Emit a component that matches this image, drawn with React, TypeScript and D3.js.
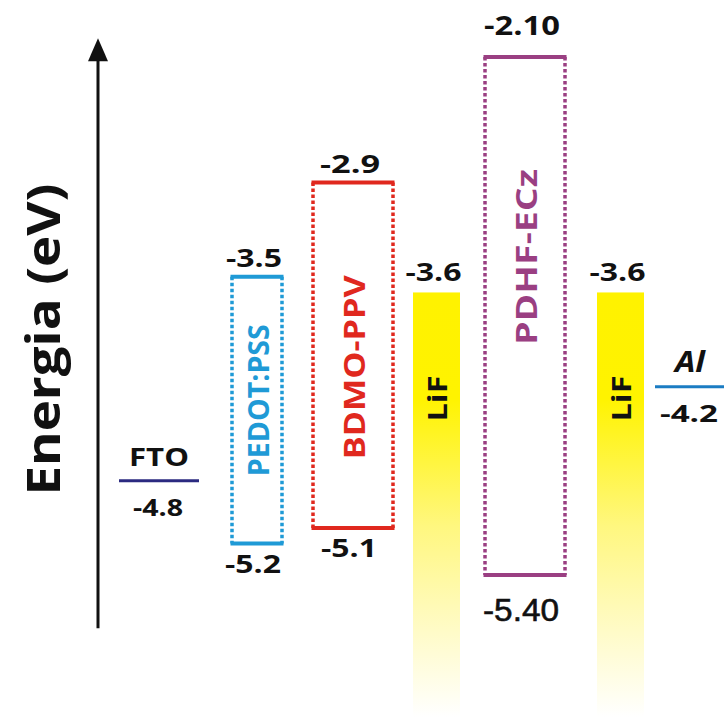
import React from "react";
import * as d3 from "d3";

// ---- data ----
const polymers = ["PEDOT:PSS", "BDMO-PPV", "PDHF-ECz"];
const polymerLumo = [-3.5, -2.9, -2.1];
const polymerHomo = [-5.2, -5.1, -5.4];
const polymerLumoLabels = ["-3.5", "-2.9", "-2.10"];
const polymerHomoLabels = ["-5.2", "-5.1", "-5.40"];

const electrodes = ["FTO", "Al"];
const electrodeLevels = [-4.8, -4.2];
const electrodeLabels = ["-4.8", "-4.2"];

const lifLayers = ["LiF-1", "LiF-2"];
const lifLevels = [-3.6, -3.6];
const lifLabels = ["-3.6", "-3.6"];

const axisTitle = "Energia (eV)";

// ---- layout (styles / positions) ----
const W = 724;
const H = 717;
const slots = ["FTO", "PEDOT:PSS", "BDMO-PPV", "LiF-1", "PDHF-ECz", "LiF-2", "Al"];
const slotCenters = [159, 257, 353, 436.5, 525, 620.5, 690];
const slotWidths = [80, 50, 80, 47, 80, 47, 70];
const xCenter = d3.scaleOrdinal<string, number>().domain(slots).range(slotCenters);
const xWidth = d3.scaleOrdinal<string, number>().domain(slots).range(slotWidths);

const polymerColors = ["#1f9ad6", "#e0281e", "#9a3f82"];
const polymerLabelLength = [152, 184, 176];
const polymerLabelOffset = [-10, 12, 0];
const lumoLabelLength = [56, 60, 76];
const homoLabelLength = [56, 56, 76];
const electrodeColors = ["#2b2a80", "#1b7cc3"];
const FONT = "'Open Sans', 'DejaVu Sans', sans-serif";

export default function App() {
  const allLevels = [...polymerLumo, ...polymerHomo, ...electrodeLevels, ...lifLevels];
  const y = d3
    .scaleLinear()
    .domain([d3.max(allLevels) as number, d3.min(allLevels) as number])
    .range([57, 575]);

  const axisX = 98;
  const axisTop = y(-1.98);
  const axisBottom = y(-5.74);

  return (
    <svg
      width={W}
      height={H}
      style={{ position: "absolute", left: 0, top: 0, background: "#fff" }}
      fontFamily={FONT}
    >
      <defs>
        <linearGradient id="lifGrad" x1="0" y1="0" x2="0" y2="1">
          <stop offset="0" stopColor="#fff200" />
          <stop offset="0.25" stopColor="#fff300" />
          <stop offset="0.55" stopColor="#fff77f" />
          <stop offset="0.8" stopColor="#fffbc8" />
          <stop offset="1" stopColor="#ffffff" />
        </linearGradient>
      </defs>

      {/* energy axis */}
      <line x1={axisX} x2={axisX} y1={axisBottom} y2={axisTop + 20} stroke="#111" strokeWidth={3} />
      <path
        d={`M${axisX},${axisTop} L${axisX - 10},${axisTop + 23} L${axisX + 10},${axisTop + 23} Z`}
        fill="#111"
      />
      <text
        transform={`translate(42,${(y(-2.9) + y(-4.9)) / 2}) rotate(-90)`}
        textAnchor="middle"
        dominantBaseline="central"
        fontSize={46}
        fontWeight={700}
        fill="#111"
        textLength={312}
        lengthAdjust="spacingAndGlyphs"
      >
        {axisTitle}
      </text>

      {/* LiF layers */}
      {lifLayers.map((name, i) => {
        const cx = xCenter(name);
        const w = xWidth(name);
        const top = y(lifLevels[i]);
        return (
          <g key={name}>
            <rect x={cx - w / 2} y={top} width={w} height={H - top} fill="url(#lifGrad)" />
            <text
              x={cx - 3}
              y={top - 11}
              textAnchor="middle"
              fontSize={25}
              fontWeight={700}
              fill="#111"
              textLength={56}
              lengthAdjust="spacingAndGlyphs"
            >
              {lifLabels[i]}
            </text>
            <text
              transform={`translate(${cx},${top + 106}) rotate(-90)`}
              textAnchor="middle"
              dominantBaseline="central"
              fontSize={27}
              fontWeight={700}
              fill="#111"
              textLength={46}
              lengthAdjust="spacingAndGlyphs"
            >
              LiF
            </text>
          </g>
        );
      })}

      {/* polymer boxes */}
      {polymers.map((name, i) => {
        const cx = xCenter(name);
        const w = xWidth(name);
        const x0 = cx - w / 2;
        const x1 = cx + w / 2;
        const top = y(polymerLumo[i]);
        const bot = y(polymerHomo[i]);
        const c = polymerColors[i];
        const isLast = i === polymers.length - 1;
        const labelY = isLast ? top + 200 : (top + bot) / 2 + polymerLabelOffset[i];
        return (
          <g key={name}>
            <line x1={x0} x2={x0} y1={top} y2={bot} stroke={c} strokeWidth={3.5} strokeDasharray="3.5 2.5" />
            <line x1={x1} x2={x1} y1={top} y2={bot} stroke={c} strokeWidth={3.5} strokeDasharray="3.5 2.5" />
            <line x1={x0 - 1.5} x2={x1 + 1.5} y1={top} y2={top} stroke={c} strokeWidth={4} />
            <line x1={x0 - 1.5} x2={x1 + 1.5} y1={bot} y2={bot} stroke={c} strokeWidth={4} />
            <text
              x={cx - 3}
              y={top - (isLast ? 22 : 10)}
              textAnchor="middle"
              fontSize={isLast ? 27 : 25}
              fontWeight={700}
              fill="#111"
              textLength={lumoLabelLength[i]}
              lengthAdjust="spacingAndGlyphs"
            >
              {polymerLumoLabels[i]}
            </text>
            <text
              x={cx - 4}
              y={bot + (isLast ? 46 : 29)}
              textAnchor="middle"
              fontSize={isLast ? 32 : 25}
              fontWeight={isLast ? 400 : 700}
              fontFamily={isLast ? "'Liberation Sans', Arial, sans-serif" : FONT}
              fill="#111"
              stroke={isLast ? "#111" : "none"}
              strokeWidth={isLast ? 0.6 : 0}
              textLength={homoLabelLength[i]}
              lengthAdjust="spacingAndGlyphs"
            >
              {polymerHomoLabels[i]}
            </text>
            <text
              transform={`translate(${cx},${labelY}) rotate(-90)`}
              textAnchor="middle"
              dominantBaseline="central"
              fontSize={29}
              fontWeight={700}
              fill={c}
              textLength={polymerLabelLength[i]}
              lengthAdjust="spacingAndGlyphs"
            >
              {name}
            </text>
          </g>
        );
      })}

      {/* electrodes */}
      {electrodes.map((name, i) => {
        const cx = xCenter(name);
        const w = xWidth(name);
        const ly = y(electrodeLevels[i]);
        const isAl = name === "Al";
        return (
          <g key={name}>
            <line
              x1={cx - w / 2}
              x2={isAl ? W : cx + w / 2}
              y1={ly}
              y2={ly}
              stroke={electrodeColors[i]}
              strokeWidth={3}
            />
            <text
              x={cx}
              y={ly - 15}
              textAnchor="middle"
              fontSize={isAl ? 28 : 25}
              fontWeight={700}
              fontStyle={isAl ? "italic" : "normal"}
              fill="#111"
              textLength={isAl ? 30 : 60}
              lengthAdjust="spacingAndGlyphs"
            >
              {name}
            </text>
            <text
              x={cx - 1}
              y={ly + 35}
              textAnchor="middle"
              fontSize={24}
              fontWeight={700}
              fill="#111"
              textLength={isAl ? 58 : 50}
              lengthAdjust="spacingAndGlyphs"
            >
              {electrodeLabels[i]}
            </text>
          </g>
        );
      })}
    </svg>
  );
}
